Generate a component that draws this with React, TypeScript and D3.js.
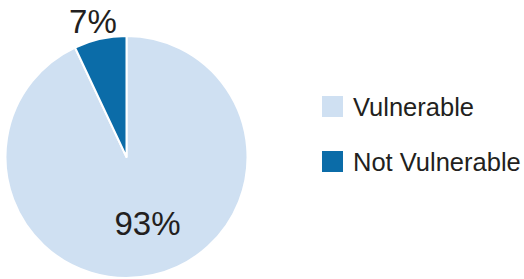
import * as d3 from 'd3';
import React, { useEffect, useRef } from 'react';

const categories = ['Vulnerable', 'Not Vulnerable'];
const values = [93, 7];
const labels = ['93%', '7%'];
const colors = ['#cfe0f2', '#0b6ca8'];

const App = () => {
  const ref = useRef<SVGSVGElement>(null);

  useEffect(() => {
    const width = 524, height = 279;
    const svg = d3.select(ref.current);
    svg.selectAll('*').remove();

    const cx = 126.5, cy = 157, radius = 121;
    const data = categories.map((c, i) => ({ name: c, value: values[i], label: labels[i] }));

    const pie = d3.pie<any>().sort(null).value(d => d.value);
    const arc = d3.arc<any>().innerRadius(0).outerRadius(radius);
    const arcs = pie(data);

    const g = svg.append('g').attr('transform', `translate(${cx},${cy})`);

    g.selectAll('path.slice')
      .data(arcs)
      .enter().append('path')
      .attr('class', 'slice')
      .attr('d', arc)
      .attr('fill', (d, i) => colors[i])
      .attr('stroke', '#fff')
      .attr('stroke-width', 2)
      .attr('stroke-linejoin', 'round');

    // labels: big one inside, small one outside the pie
    const labelRadius = [78, 140];
    const nudge = [4, -3];
    g.selectAll('text.pct')
      .data(arcs)
      .enter().append('text')
      .attr('class', 'pct')
      .attr('transform', (d, i) => {
        const a = d3.arc<any>().innerRadius(labelRadius[i]).outerRadius(labelRadius[i]);
        const [x, y] = a.centroid(d);
        return `translate(${x + nudge[i]},${y})`;
      })
      .attr('text-anchor', 'middle')
      .attr('dy', (d, i) => (i === 0 ? '0.05em' : '0.38em'))
      .attr('font-family', 'Liberation Sans, Arial, sans-serif')
      .attr('font-size', 33)
      .attr('fill', '#231f20')
      .text(d => d.data.label);

    // legend
    const legend = svg.append('g').attr('transform', 'translate(322,96)');
    const item = legend.selectAll('g.item')
      .data(data)
      .enter().append('g')
      .attr('class', 'item')
      .attr('transform', (d, i) => `translate(0,${i * 55})`);

    item.append('rect')
      .attr('width', 21)
      .attr('height', 21)
      .attr('fill', (d, i) => colors[i]);

    item.append('text')
      .attr('x', 31)
      .attr('y', 19.5)
      .attr('font-family', 'Liberation Sans, Arial, sans-serif')
      .attr('font-size', 25.5)
      .attr('fill', '#231f20')
      .text(d => d.name);

    svg.attr('width', width).attr('height', height);
  }, []);

  return (
    <svg ref={ref} width={524} height={279}
      style={{ position: 'absolute', left: 0, top: 0, background: '#fff' }} />
  );
};

export default App;
